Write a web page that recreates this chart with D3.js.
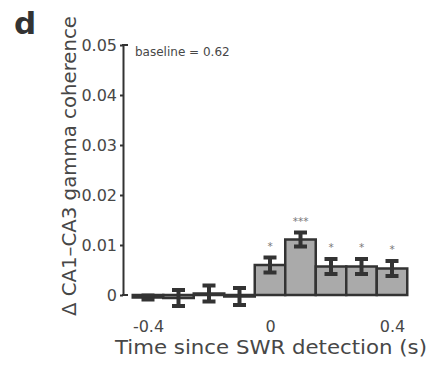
<!DOCTYPE html>
<html>
<head>
<meta charset="utf-8">
<script src="https://cdn.jsdelivr.net/npm/d3@7"></script>
<style>
    body { margin: 0; background: #fff; }
    svg { display: block; }
</style>
</head>
<body>
<div id="chart"></div>
<script>
// bin centres (s) and coherence change per bin
const times = [-0.4, -0.3, -0.2, -0.1, 0, 0.1, 0.2, 0.3, 0.4];
const means = [-0.0005, -0.0006, 0.0003, -0.0003, 0.006, 0.0111, 0.0057, 0.0057, 0.0053];
const sems = [0.0004, 0.0016, 0.0016, 0.0017, 0.0015, 0.0014, 0.0015, 0.0015, 0.0015];
const stars = ["", "", "", "", "*", "***", "*", "*", "*"];
const yTicks = [0, 0.01, 0.02, 0.03, 0.04, 0.05];
const xTicks = [-0.4, 0, 0.4];

const width = 432, height = 366;
const fontFam = "'DejaVu Sans', sans-serif";
const dark = "#333";
const txt = "#474747";

var svg = d3.select("#chart")
    .append("svg")
    .attr("width", width)
    .attr("height", height);

var x = d3.scaleLinear().domain([-0.4, 0.4]).range([148, 392]);
var y = d3.scaleLinear().domain([0, 0.05]).range([295, 45]);
var bw = x(0.1) - x(0);

var data = times.map(function (t, i) {
    return { t: t, m: means[i], e: sems[i], s: stars[i] };
});

// bars
svg.selectAll("rect.bar")
    .data(data)
    .enter()
    .append("rect")
    .attr("class", "bar")
    .attr("x", function (d) { return x(d.t) - bw / 2; })
    .attr("width", bw)
    .attr("y", function (d) { return Math.min(y(d.m), y(0)); })
    .attr("height", function (d) { return Math.abs(y(d.m) - y(0)); })
    .attr("fill", "#aaa")
    .attr("stroke", dark)
    .attr("stroke-width", 2.5);

// error bars
var eb = svg.selectAll("g.err")
    .data(data)
    .enter()
    .append("g")
    .attr("class", "err")
    .attr("stroke", dark)
    .attr("stroke-width", 4);

eb.append("line")
    .attr("x1", function (d) { return x(d.t); })
    .attr("x2", function (d) { return x(d.t); })
    .attr("y1", function (d) { return y(d.m + d.e); })
    .attr("y2", function (d) { return y(d.m - d.e); });

[1, -1].forEach(function (sgn) {
    eb.append("line")
        .attr("x1", function (d) { return x(d.t) - 6.5; })
        .attr("x2", function (d) { return x(d.t) + 6.5; })
        .attr("y1", function (d) { return y(d.m + sgn * d.e); })
        .attr("y2", function (d) { return y(d.m + sgn * d.e); });
});

// significance stars
svg.selectAll("text.star")
    .data(data)
    .enter()
    .append("text")
    .attr("class", "star")
    .attr("x", function (d) { return x(d.t); })
    .attr("y", function (d) { return y(d.m + d.e) - 8; })
    .attr("text-anchor", "middle")
    .style("font-family", fontFam)
    .style("font-size", "10.5px")
    .style("fill", "#777")
    .text(function (d) { return d.s; });

// y axis
var yAxis = svg.append("g")
    .attr("transform", "translate(123,0)")
    .call(d3.axisLeft(y)
        .tickValues(yTicks)
        .tickSize(3)
        .tickPadding(3)
        .tickSizeOuter(0)
        .tickFormat(function (d) { return d === 0 ? "0" : d3.format(".2f")(d); }));

yAxis.select(".domain").attr("stroke", dark).attr("stroke-width", 2);
yAxis.selectAll(".tick line").attr("stroke", dark).attr("stroke-width", 2);
yAxis.selectAll(".tick text")
    .style("font-family", fontFam)
    .style("font-size", "16px")
    .style("fill", txt);

// inward end ticks at top and bottom
svg.selectAll("line.endtick")
    .data([0, 0.05])
    .enter()
    .append("line")
    .attr("class", "endtick")
    .attr("x1", 122)
    .attr("x2", 128)
    .attr("y1", function (d) { return y(d); })
    .attr("y2", function (d) { return y(d); })
    .attr("stroke", dark)
    .attr("stroke-width", 2);

// x tick labels (plain hyphen for the minus sign)
var xAxis = svg.append("g")
    .attr("transform", "translate(0," + y(0) + ")")
    .call(d3.axisBottom(x)
        .tickValues(xTicks)
        .tickSize(0)
        .tickPadding(26)
        .tickFormat(function (d) { return d === 0 ? "0" : d3.format(".1f")(d).replace("\u2212", "-"); }));

xAxis.select(".domain").remove();
xAxis.selectAll(".tick text")
    .style("font-family", fontFam)
    .style("font-size", "16px")
    .style("fill", txt);

// axis titles
svg.append("text")
    .attr("x", 271)
    .attr("y", 354)
    .attr("text-anchor", "middle")
    .attr("textLength", 312)
    .attr("lengthAdjust", "spacingAndGlyphs")
    .style("font-family", fontFam)
    .style("font-size", "20px")
    .style("fill", txt)
    .text("Time since SWR detection (s)");

svg.append("text")
    .attr("transform", "translate(76,166) rotate(-90)")
    .attr("text-anchor", "middle")
    .attr("textLength", 300)
    .attr("lengthAdjust", "spacingAndGlyphs")
    .style("font-family", fontFam)
    .style("font-size", "19.5px")
    .style("fill", txt)
    .text("\u0394 CA1\u2013CA3  gamma coherence");

svg.append("text")
    .attr("x", 135)
    .attr("y", 56)
    .style("font-family", fontFam)
    .style("font-size", "12px")
    .style("fill", txt)
    .text("baseline = 0.62");

// panel letter
svg.append("text")
    .attr("x", 14)
    .attr("y", 34)
    .style("font-family", fontFam)
    .style("font-size", "31px")
    .style("font-weight", "bold")
    .style("fill", dark)
    .text("d");
</script>
</body>
</html>
